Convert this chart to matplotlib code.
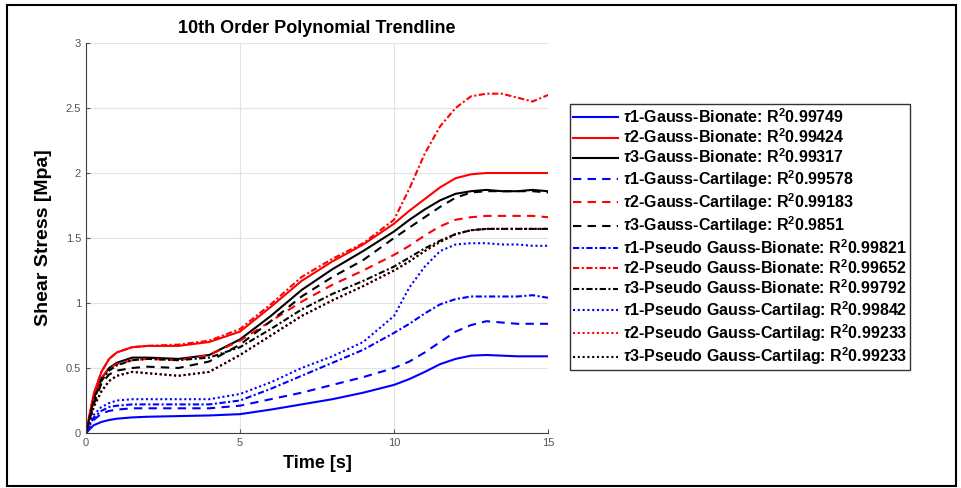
import matplotlib.pyplot as plt
from matplotlib.patches import Rectangle

plt.rcParams['font.family'] = ['Liberation Sans', 'DejaVu Sans']
plt.rcParams['mathtext.fontset'] = 'custom'
plt.rcParams['mathtext.rm'] = 'Liberation Sans:bold'
plt.rcParams['mathtext.it'] = 'Liberation Sans:italic:bold'
plt.rcParams['mathtext.bf'] = 'Liberation Sans:bold'

# time axis (s)
t = [0, 0.25, 0.5, 0.75, 1, 1.5, 2, 3, 4, 5, 6, 7, 8, 9, 10, 10.5, 11, 11.5, 12, 12.5, 13, 13.5, 14, 14.5, 15]

# shear stress (MPa)
b_gauss_bionate = [0, 0.06, 0.085, 0.1, 0.11, 0.12, 0.125, 0.13, 0.135, 0.145, 0.18, 0.22, 0.26, 0.31, 0.37, 0.415, 0.47, 0.53, 0.57, 0.595, 0.6, 0.595, 0.59, 0.59, 0.59]
r_gauss_bionate = [0, 0.3, 0.47, 0.57, 0.62, 0.66, 0.67, 0.67, 0.7, 0.78, 0.97, 1.17, 1.32, 1.45, 1.61, 1.71, 1.8, 1.89, 1.96, 1.99, 2.0, 2.0, 2.0, 2.0, 2.0]
k_gauss_bionate = [0, 0.26, 0.42, 0.5, 0.54, 0.58, 0.58, 0.57, 0.6, 0.72, 0.9, 1.1, 1.26, 1.4, 1.55, 1.64, 1.72, 1.79, 1.84, 1.86, 1.87, 1.86, 1.86, 1.87, 1.86]
b_gauss_cart = [0, 0.1, 0.15, 0.17, 0.18, 0.19, 0.19, 0.19, 0.19, 0.21, 0.26, 0.31, 0.37, 0.43, 0.5, 0.55, 0.62, 0.7, 0.78, 0.83, 0.86, 0.85, 0.84, 0.84, 0.84]
r_gauss_cart = [0, 0.25, 0.42, 0.5, 0.53, 0.56, 0.57, 0.56, 0.6, 0.71, 0.86, 1.01, 1.14, 1.25, 1.37, 1.44, 1.52, 1.59, 1.64, 1.66, 1.67, 1.67, 1.67, 1.67, 1.66]
k_gauss_cart = [0, 0.22, 0.38, 0.45, 0.48, 0.5, 0.51, 0.5, 0.55, 0.68, 0.86, 1.05, 1.2, 1.33, 1.5, 1.58, 1.66, 1.74, 1.81, 1.85, 1.86, 1.86, 1.86, 1.86, 1.85]
b_pseudo_bionate = [0, 0.12, 0.17, 0.2, 0.21, 0.22, 0.22, 0.22, 0.22, 0.25, 0.34, 0.44, 0.54, 0.64, 0.77, 0.84, 0.92, 0.99, 1.03, 1.05, 1.05, 1.05, 1.05, 1.06, 1.04]
r_pseudo_bionate = [0, 0.3, 0.47, 0.57, 0.62, 0.66, 0.67, 0.68, 0.71, 0.8, 0.99, 1.2, 1.34, 1.46, 1.64, 1.88, 2.15, 2.36, 2.5, 2.59, 2.61, 2.61, 2.58, 2.55, 2.6]
k_pseudo_bionate = [0, 0.25, 0.4, 0.48, 0.52, 0.56, 0.57, 0.56, 0.58, 0.66, 0.8, 0.95, 1.07, 1.17, 1.28, 1.35, 1.42, 1.48, 1.53, 1.56, 1.57, 1.57, 1.57, 1.57, 1.57]
b_pseudo_cart = [0, 0.14, 0.2, 0.23, 0.25, 0.26, 0.26, 0.26, 0.26, 0.3, 0.39, 0.5, 0.59, 0.7, 0.9, 1.12, 1.28, 1.4, 1.45, 1.46, 1.46, 1.45, 1.45, 1.44, 1.44]
r_pseudo_cart = [0, 0.2, 0.32, 0.4, 0.44, 0.47, 0.46, 0.44, 0.47, 0.6, 0.75, 0.9, 1.02, 1.13, 1.25, 1.32, 1.4, 1.47, 1.53, 1.56, 1.57, 1.57, 1.57, 1.57, 1.57]
k_pseudo_cart = [0, 0.2, 0.32, 0.4, 0.44, 0.47, 0.46, 0.44, 0.47, 0.6, 0.75, 0.9, 1.02, 1.13, 1.25, 1.32, 1.4, 1.47, 1.53, 1.56, 1.57, 1.57, 1.57, 1.57, 1.57]

names = ['Gauss-Bionate', 'Gauss-Bionate', 'Gauss-Bionate',
         'Gauss-Cartilage', 'Gauss-Cartilage', 'Gauss-Cartilage',
         'Pseudo Gauss-Bionate', 'Pseudo Gauss-Bionate', 'Pseudo Gauss-Bionate',
         'Pseudo Gauss-Cartilag', 'Pseudo Gauss-Cartilag', 'Pseudo Gauss-Cartilag']
r2 = ['0.99749', '0.99424', '0.99317', '0.99578', '0.99183', '0.9851',
      '0.99821', '0.99652', '0.99792', '0.99842', '0.99233', '0.99233']
series = [b_gauss_bionate, r_gauss_bionate, k_gauss_bionate,
          b_gauss_cart, r_gauss_cart, k_gauss_cart,
          b_pseudo_bionate, r_pseudo_bionate, k_pseudo_bionate,
          b_pseudo_cart, r_pseudo_cart, k_pseudo_cart]

colors = ['#0000ff', '#ff0000', '#000000']
styles = ['-', (0, (4, 3)), (0, (3, 1.2, 1, 1.2)), (0, (1, 1.3))]

fig = plt.figure(figsize=(9.61, 4.88), dpi=100)
ax = fig.add_axes([86 / 961, 55 / 488, 462 / 961, 390 / 488])

for i, y in enumerate(series):
    lbl = r'$\tau$' + str(i % 3 + 1) + '-' + names[i] + ': R$^{2}$' + r2[i]
    ax.plot(t, y, color=colors[i % 3], linestyle=styles[i // 3], lw=1.5, label=lbl)

ax.set_xlim(0, 15)
ax.set_ylim(0, 3)
ax.set_xticks([0, 5, 10, 15])
ax.set_yticks([0, 0.5, 1, 1.5, 2, 2.5, 3])
ax.set_yticklabels(['0', '0.5', '1', '1.5', '2', '2.5', '3'])
ax.tick_params(direction='in', labelsize=8, colors='#555555', length=3)
ax.grid(True, color='#e3e3e3', lw=0.8)
ax.set_axisbelow(True)
for s in ['top', 'right']:
    ax.spines[s].set_visible(False)
for s in ['left', 'bottom']:
    ax.spines[s].set_color('#404040')

ax.set_title('10th Order Polynomial Trendline', fontsize=13, fontweight='bold', pad=7)
ax.set_xlabel('Time [s]', fontsize=13, fontweight='bold', labelpad=5)
ax.set_ylabel('Shear Stress [Mpa]', fontsize=14, fontweight='bold', labelpad=10)

leg = ax.legend(loc='upper left', bbox_to_anchor=(570 / 961, 1 - 104 / 488),
                bbox_transform=fig.transFigure, prop={'weight': 'bold', 'size': 11.5},
                frameon=True, fancybox=False, borderaxespad=0, borderpad=0.2,
                handlelength=2.8, handletextpad=0.3, labelspacing=0.1)
leg.get_frame().set_edgecolor('black')
leg.get_frame().set_linewidth(1)

# outer frame around the whole picture
fig.patches.append(Rectangle((7 / 961, 2 / 488), 949 / 961, 481 / 488, transform=fig.transFigure,
                             fill=False, edgecolor='black', lw=1.5))

fig.savefig('out.png', dpi=100)
